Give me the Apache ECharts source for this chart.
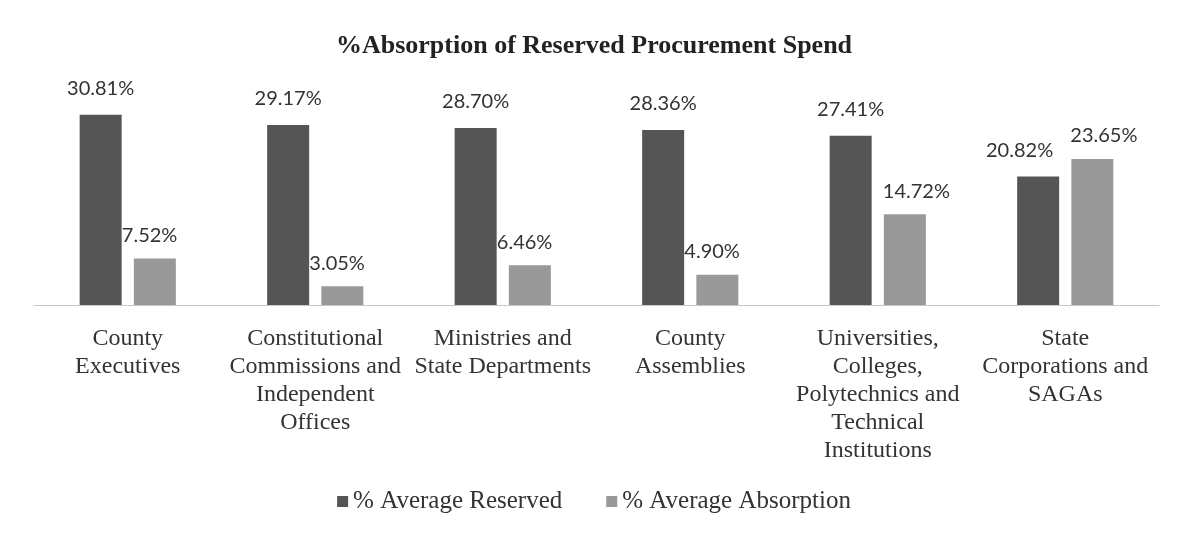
<!DOCTYPE html>
<html>
<head>
<meta charset="utf-8">
<script src="https://cdn.jsdelivr.net/npm/echarts@6/dist/echarts.min.js"></script>
<style>
  html, body { margin: 0; padding: 0; background: #fff; }
  #main { width: 1188px; height: 534px; }
</style>
</head>
<body>
<div id="main"></div>
<script>
const categories = [
  'County\nExecutives',
  'Constitutional\nCommissions and\nIndependent\nOffices',
  'Ministries and\nState Departments',
  'County\nAssemblies',
  'Universities,\nColleges,\nPolytechnics and\nTechnical\nInstitutions',
  'State\nCorporations and\nSAGAs'
]
const avgReserved = [30.81, 29.17, 28.70, 28.36, 27.41, 20.82]
const avgAbsorption = [7.52, 3.05, 6.46, 4.90, 14.72, 23.65]

const chart = echarts.init(document.getElementById('main'))

const labelStyle = {
  show: true,
  position: 'top',
  fontFamily: 'Lato',
  fontSize: 20,
  color: '#333',
  formatter: (p) => p.value.toFixed(2) + '%'
}

// dark labels sit centred, except where the lighter bar is taller and would collide
const reservedData = avgReserved.map((v, i) => {
  const item = { value: v }
  if (avgAbsorption[i] > v) {
    item.label = { align: 'right', offset: [15, 0] }
  }
  return item
})

// light labels start at the gap for short bars, at the bar's left edge for tall ones
const absorptionData = avgAbsorption.map((v) => {
  return {
    value: v,
    label: { align: 'left', offset: [v < 10 ? -33 : -22, 0] }
  }
})

const option = {
  animation: false,
  title: {
    text: '%Absorption of Reserved Procurement Spend',
    left: 'center',
    top: 28,
    textStyle: {
      fontFamily: 'Liberation Serif',
      fontSize: 26,
      fontWeight: 'bold',
      color: '#222'
    }
  },
  legend: {
    bottom: 15,
    left: 'center',
    itemWidth: 11,
    itemHeight: 11,
    itemGap: 44,
    icon: 'rect',
    textStyle: {
      fontFamily: 'Liberation Serif',
      fontSize: 25,
      color: '#333'
    },
    data: ['% Average Reserved', '% Average Absorption']
  },
  grid: {
    left: 34,
    right: 29,
    top: 89,
    bottom: 229,
    containLabel: false
  },
  xAxis: {
    type: 'category',
    data: categories,
    axisLine: {
      lineStyle: { color: '#bbb', type: 'dotted', width: 1 }
    },
    axisTick: { show: false },
    axisLabel: {
      interval: 0,
      margin: 20,
      fontFamily: 'Liberation Serif',
      fontSize: 24,
      lineHeight: 28,
      color: '#333'
    }
  },
  yAxis: {
    type: 'value',
    min: 0,
    max: 35,
    show: false
  },
  series: [{
    name: '% Average Reserved',
    type: 'bar',
    data: reservedData,
    barWidth: 42,
    barGap: '29%',
    itemStyle: { color: '#555555' },
    label: Object.assign({}, labelStyle, { distance: 16 })
  }, {
    name: '% Average Absorption',
    type: 'bar',
    data: absorptionData,
    barWidth: 42,
    itemStyle: { color: '#999999' },
    label: Object.assign({}, labelStyle, { distance: 13 })
  }]
}

chart.setOption(option)
</script>
</body>
</html>
